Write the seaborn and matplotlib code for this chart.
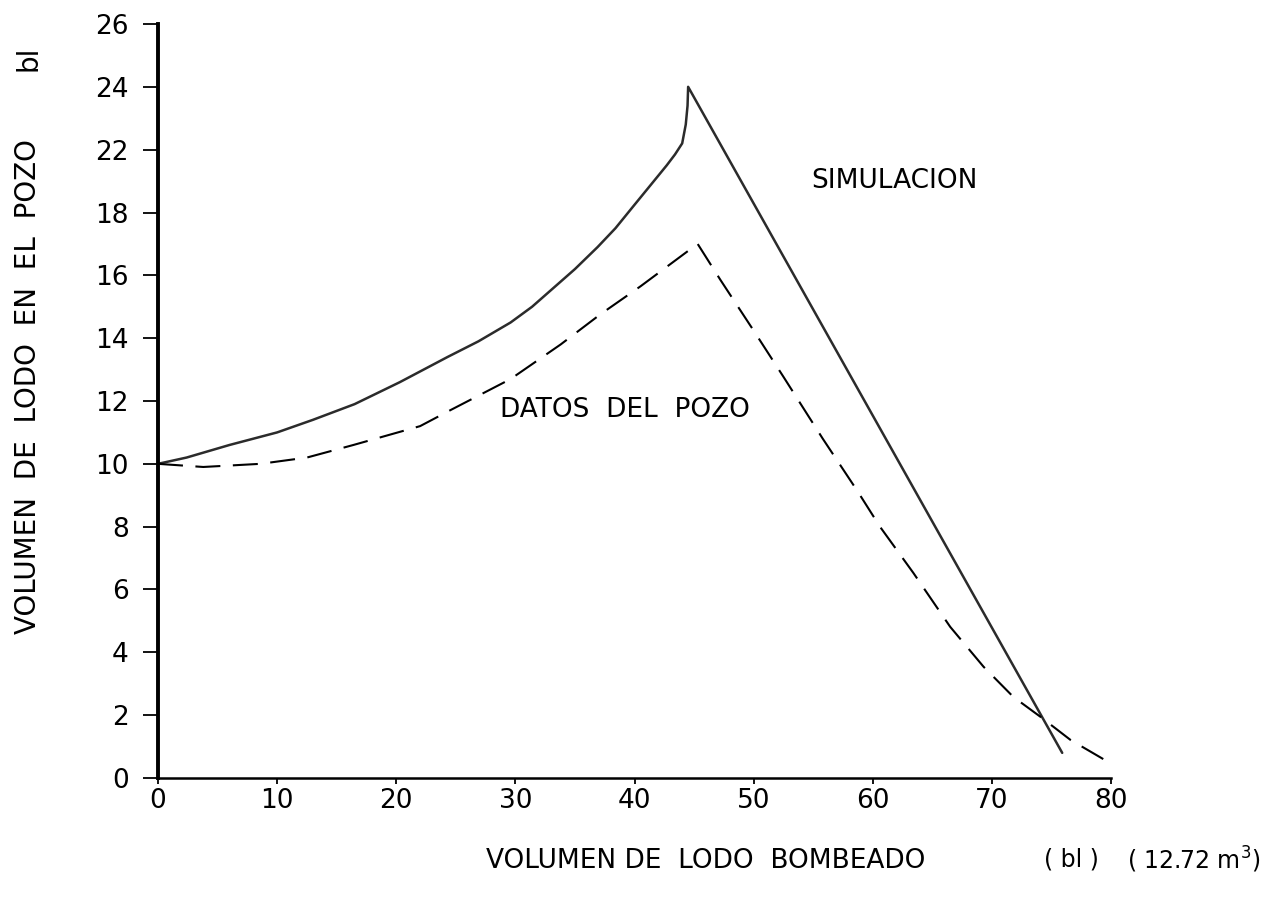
import numpy as np
import pandas as pd
import matplotlib
matplotlib.use("Agg")
import matplotlib.pyplot as plt
import seaborn as sns

# ---- data ----
sim_x = [0, 2.4, 6, 10, 13, 16.5, 20.3, 24.3, 26.9, 29.6, 31.4, 33.2, 35.0, 36.9,
         38.4, 39.9, 41.3, 42.7, 43.4, 44.0, 44.3, 44.45, 44.5, 75.9]
sim_y = [10.0, 10.2, 10.6, 11.0, 11.4, 11.9, 12.6, 13.4, 13.9, 14.5, 15.0, 15.6, 16.2, 16.9,
         17.5, 18.4, 19.7, 21.0, 21.7, 22.2, 22.8, 23.4, 24.0, 0.8]

pozo_x = [0, 3.8, 8.6, 12.5, 16.4, 22.0, 24.5, 29.6, 33.8, 37.1, 40.5, 44.4, 45.3,
          47.2, 50.0, 52.5, 55.8, 58.7, 60.6, 63.4, 66.5, 69.3, 71.8, 74.1, 76.6, 79.9]
pozo_y = [10.0, 9.9, 10.0, 10.2, 10.6, 11.2, 11.7, 12.7, 13.8, 14.75, 15.65, 16.75, 17.0,
          15.86, 14.24, 12.77, 10.8, 9.14, 8.0, 6.53, 4.81, 3.54, 2.58, 1.94, 1.21, 0.48]

x_ticks = [0, 10, 20, 30, 40, 50, 60, 70, 80]
y_ticks = [0, 2, 4, 6, 8, 10, 12, 14, 16, 18, 22, 24, 26]

label_sim = "SIMULACION"
label_pozo = "DATOS  DEL  POZO"
xlabel = "VOLUMEN DE  LODO  BOMBEADO"
xunit = "( bl )"
xunit2 = "( 12.72 m$^{3}$)"
ylabel = "VOLUMEN  DE  LODO  EN  EL  POZO"
yunit = "bl"

# ---- style ----
sns.set_style("ticks")
plt.rcParams["font.family"] = ["DejaVu Sans"]
plt.rcParams["mathtext.default"] = "regular"
for k in ("text.color", "axes.labelcolor", "xtick.color", "ytick.color", "axes.edgecolor"):
    plt.rcParams[k] = "black"

df_sim = pd.DataFrame({"x": sim_x, "y": sim_y})
df_pozo = pd.DataFrame({"x": pozo_x, "y": pozo_y})

fig = plt.figure(figsize=(12.63, 8.99), dpi=100)
ax = fig.add_axes([0.1251, 0.1346, 0.7546, 0.8387])

sns.lineplot(data=df_sim, x="x", y="y", sort=False, estimator=None,
             color="#2b2b2b", linewidth=1.8, ax=ax)
sns.lineplot(data=df_pozo, x="x", y="y", sort=False, estimator=None,
             color="black", linewidth=1.5, linestyle=(0, (12, 6)), ax=ax)

# the printed axis has evenly spaced ticks labelled 0..18, 22, 24, 26
tick_pos = np.arange(len(y_ticks)) * 2.0
def fwd(v):
    return np.interp(v, y_ticks, tick_pos)
def inv(p):
    return np.interp(p, tick_pos, y_ticks)
ax.set_yscale("function", functions=(fwd, inv))

ax.set_xlim(0, 80)
ax.set_ylim(0, 26)
ax.set_xticks(x_ticks)
ax.set_xticklabels([str(t) for t in x_ticks])
ax.set_yticks(y_ticks)
ax.set_yticklabels([str(t) for t in y_ticks])
ax.minorticks_off()

sns.despine(ax=ax)
ax.spines["left"].set_linewidth(2.8)
ax.spines["bottom"].set_linewidth(1.8)
ax.tick_params(axis="y", length=11, width=1.3, pad=10, labelsize=19, direction="out")
ax.tick_params(axis="x", length=4, width=1.3, pad=3, labelsize=19, direction="out")

ax.text(28.7, 11.7, label_pozo, ha="left", va="center", fontsize=19)
ax.text(54.8, 20.0, label_sim, ha="left", va="center", fontsize=19)

ax.set_xlabel(xlabel, fontsize=19)
ax.xaxis.label.set_va("center")
ax.xaxis.set_label_coords(0.575, -0.110)
ax.set_ylabel(ylabel, fontsize=20)
ax.yaxis.label.set_va("center")
ax.yaxis.set_label_coords(-0.136, 0.519)

fig.text(0.848, 0.0435, xunit, ha="center", va="center", fontsize=17)
fig.text(0.998, 0.0435, xunit2, ha="right", va="center", fontsize=17)
ax.text(-0.136, 0.954, yunit, transform=ax.transAxes, ha="center", va="center",
        rotation=90, fontsize=20)

fig.savefig("out.png", dpi=100)
